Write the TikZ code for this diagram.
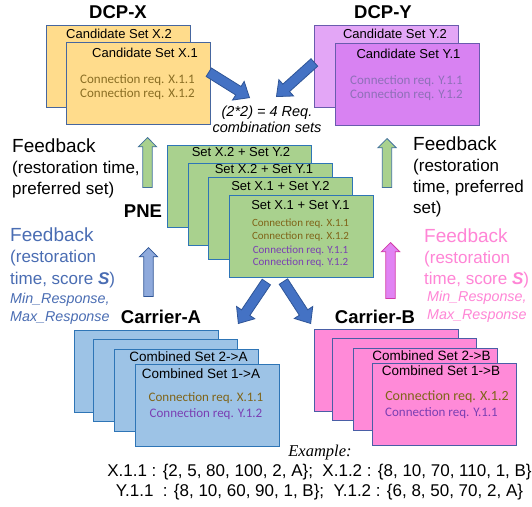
\documentclass[tikz,border=0pt]{standalone}
\usepackage{fontspec}
\setmainfont{Liberation Sans}
\newfontfamily\calibri{Carlito}
\newfontfamily\timesfont{Liberation Serif}
\usetikzlibrary{positioning,shapes.arrows}

\definecolor{candXfill}{HTML}{FFDC8C}
\definecolor{candXline}{HTML}{46669F}
\definecolor{candYback}{HTML}{E3A6F6}
\definecolor{candYfill}{HTML}{D882F2}
\definecolor{candYline}{HTML}{6A5BAE}
\definecolor{pneFill}{HTML}{A9D18E}
\definecolor{pneLine}{HTML}{2E75B6}
\definecolor{carAFill}{HTML}{9DC3E6}
\definecolor{carALine}{HTML}{2E75B6}
\definecolor{carBFill}{HTML}{FF8AD8}
\definecolor{carBLine}{HTML}{4A5EA6}
\definecolor{reqX}{HTML}{7F6418}
\definecolor{reqY}{HTML}{7A3FB3}
\definecolor{reqXsoft}{HTML}{8A6E24}
\definecolor{reqYsoft}{HTML}{8E70B8}
\definecolor{flowFill}{HTML}{4472C4}
\definecolor{flowLine}{HTML}{2F5597}
\definecolor{fbBlue}{HTML}{4A6DB3}
\definecolor{fbBlueFill}{HTML}{8FAADC}
\definecolor{fbPink}{HTML}{FF85D6}
\definecolor{fbPinkFill}{HTML}{E183F3}
\definecolor{fbPinkLine}{HTML}{D23CA8}
\definecolor{fbGreenLine}{HTML}{41719C}

\begin{document}
\begin{tikzpicture}[
    x=1pt, y=-1pt,
    % stacked sheets
    sheet/.style={draw=#1, line width=0.9pt, anchor=north west,
      minimum width=144pt, minimum height=82pt, inner sep=0pt},
    xsheet/.style={sheet=candXline, fill=candXfill},
    ysheetback/.style={sheet=candYline, fill=candYback},
    ysheet/.style={sheet=candYline, fill=candYfill},
    gsheet/.style={sheet=pneLine, fill=pneFill},
    asheet/.style={sheet=carALine, fill=carAFill},
    bsheet/.style={sheet=carBLine, fill=carBFill},
    % texts
    title/.style={anchor=base, inner sep=0pt, font=\bfseries\fontsize{18.5}{22}\selectfont},
    lbl/.style={anchor=base, inner sep=0pt, font=\fontsize{13}{15}\selectfont},
    req/.style={anchor=base, inner sep=0pt, text=#1, font=\calibri\fontsize{13}{15}\selectfont},
    fb/.style={anchor=north west, align=left, inner sep=0pt, font=\fontsize{17}{21}\selectfont},
    fbit/.style={anchor=north west, align=left, inner sep=0pt, font=\itshape\fontsize{14.3}{18}\selectfont},
    % block arrows
    fat/.style 2 args={single arrow, draw=#1, fill=#2, line width=0.8pt,
      inner xsep=0pt, inner ysep=4.3pt, single arrow head extend=4.5pt,
      single arrow head indent=0pt, anchor=tip},
    flow/.style={fat={flowLine}{flowFill}, inner ysep=4.6pt,
      single arrow head extend=6pt, single arrow tip angle=80}
  ]
  \fill[white] (0,0) rectangle (532,506);
  \useasboundingbox (0,0) rectangle (532,506);

  % DCP-X
  \node[title] (dcpx) at (118,18) {DCP-X};
  \node[xsheet] (x2) at (46,25) {};
  \node[xsheet, below right=17pt and 20pt of x2.north west] (x1) {};
  \node[lbl] (x2t) at (119,38) {Candidate Set X.2};
  \node[lbl] (x1t) at (145,57) {Candidate Set X.1};
  \node[req=reqXsoft] (x11) at (137.5,83) {Connection req. X.1.1};
  \node[req=reqXsoft] (x12) at (137.5,97) {Connection req. X.1.2};

  % DCP-Y
  \node[title] (dcpy) at (383,18) {DCP-Y};
  \node[ysheetback] (y2) at (314,25) {};
  \node[ysheet, below right=18pt and 21pt of y2.north west] (y1) {};
  \node[lbl] (y2t) at (395,38) {Candidate Set Y.2};
  \node[lbl] (y1t) at (408.5,58) {Candidate Set Y.1};
  \node[req=reqYsoft] (y11) at (406.5,84) {Connection req. Y.1.1};
  \node[req=reqYsoft] (y12) at (406.5,98) {Connection req. Y.1.2};

  % candidate sets into the PNE
  \node[flow, rotate=-32, minimum height=48pt] (toPneX) at (250,98) {};
  \node[flow, rotate=222, minimum height=51pt] (toPneY) at (276,97) {};
  \node[anchor=north, align=center, inner sep=0pt,
    font=\itshape\fontsize{14.5}{16}\selectfont] (combo) at (267,106)
    {(2*2) = 4 Req.\\combination sets};

  % PNE
  \node[title] (pne) at (143,217) {PNE};
  \node[gsheet] (g1) at (167,145) {};
  \node[gsheet, below right=18pt and 21pt of g1.north west] (g2) {};
  \node[gsheet, below right=14pt and 20pt of g2.north west] (g3) {};
  \node[gsheet, below right=18pt and 21pt of g3.north west] (g4) {};
  \node[lbl] (g1t) at (241,156) {Set X.2 + Set Y.2};
  \node[lbl] (g2t) at (264,173) {Set X.2 + Set Y.1};
  \node[lbl] (g3t) at (280.5,190) {Set X.1 + Set Y.2};
  \node[lbl] (g4t) at (300.5,209) {Set X.1 + Set Y.1};
  \node[req=reqX, font=\calibri\fontsize{11}{13}\selectfont] (g11) at (300.5,226.7) {Connection req. X.1.1};
  \node[req=reqX, font=\calibri\fontsize{11}{13}\selectfont] (g12) at (300.5,239) {Connection req. X.1.2};
  \node[req=reqY, font=\calibri\fontsize{11}{13}\selectfont] (g21) at (300.5,253.3) {Connection req. Y.1.1};
  \node[req=reqY, font=\calibri\fontsize{11}{13}\selectfont] (g22) at (300.5,265.7) {Connection req. Y.1.2};

  % feedback to the DCPs
  \node[fat={fbGreenLine}{pneFill}, rotate=90, minimum height=50pt] (fbXup) at (147.5,137) {};
  \node[fat={fbGreenLine}{pneFill}, rotate=90, minimum height=49pt] (fbYup) at (387,138) {};
  \node[fb] (fbXtxt) at (12,138.4)
    {{\fontsize{19}{21}\selectfont Feedback}\\(restoration time,\\preferred set)};
  \node[fb] (fbYtxt) at (413,137)
    {{\fontsize{19}{21}\selectfont Feedback}\\(restoration\\time, preferred\\set)};

  % feedback from the carriers
  \node[fat={flowLine}{fbBlueFill}, rotate=90, minimum height=49pt] (fbAup) at (148.5,247) {};
  \node[fat={fbPinkLine}{fbPinkFill}, rotate=90, minimum height=56pt] (fbBup) at (390.5,242) {};
  \node[fb, text=fbBlue, font=\fontsize{17}{21.5}\selectfont] (fbAtxt) at (10,227.4)
    {{\fontsize{19}{21.5}\selectfont Feedback}\\(restoration\\time, score \textbf{\textit{S}})};
  \node[fbit, text=fbBlue] (fbAres) at (10,292.8) {Min\_Response,\\Max\_Response};
  \node[fb, text=fbPink, font=\fontsize{17}{21}\selectfont] (fbBtxt) at (424,229)
    {{\fontsize{19}{21}\selectfont Feedback}\\(restoration\\time, score \textbf{\textit{S}})};
  \node[fbit, text=fbPink] (fbBres) at (427,290.8) {Min\_Response,\\Max\_Response};

  % PNE down to the carriers
  \node[flow, rotate=236, minimum height=50pt] (toCarA) at (238,324) {};
  \node[flow, rotate=-57, minimum height=50pt] (toCarB) at (311,324) {};

  % Carrier-A
  \node[title] (cara) at (161,323) {Carrier-A};
  \node[asheet] (a1) at (74,330) {};
  \node[asheet, below right=9pt and 19pt of a1.north west] (a2) {};
  \node[asheet, below right=10pt and 21pt of a2.north west] (a3) {};
  \node[asheet, below right=15pt and 21pt of a3.north west] (a4) {};
  \node[lbl, font=\fontsize{13.5}{15}\selectfont] (a3t) at (188.5,361) {Combined Set 2->A};
  \node[lbl, font=\fontsize{13.5}{15}\selectfont] (a4t) at (201,378.7) {Combined Set 1->A};
  \node[req=reqX] (a11) at (206,401.7) {Connection req. X.1.1};
  \node[req=reqY] (a12) at (206,417.3) {Connection req. Y.1.2};

  % Carrier-B
  \node[title] (carb) at (375,323) {Carrier-B};
  \node[bsheet] (b1) at (314,329) {};
  \node[bsheet, below right=9pt and 18pt of b1.north west] (b2) {};
  \node[bsheet, below right=10pt and 21pt of b2.north west] (b3) {};
  \node[bsheet, below right=15pt and 19pt of b3.north west] (b4) {};
  \node[lbl, font=\fontsize{13.5}{15}\selectfont] (b3t) at (431.5,360) {Combined Set 2->B};
  \node[lbl, font=\fontsize{13.5}{15}\selectfont] (b4t) at (441,375) {Combined Set 1->B};
  \node[req=reqX, font=\calibri\fontsize{14}{16}\selectfont] (b11) at (447,400.7) {Connection req. X.1.2};
  \node[req=reqY] (b12) at (441.5,416.7) {Connection req. Y.1.1};

  % example values
  \node[anchor=base, inner sep=0pt, font=\timesfont\itshape\fontsize{16.5}{18}\selectfont] (ex) at (320,456) {Example:};
  \node[anchor=base, inner sep=0pt, font=\fontsize{17}{20}\selectfont] (exX) at (319.5,476.7)
    {X.1.1 : \{2, 5, 80, 100, 2, A\};\ \ X.1.2 : \{8, 10, 70, 110, 1, B\}};
  \node[anchor=base, inner sep=0pt, font=\fontsize{17}{20}\selectfont] (exY) at (319.5,496)
    {Y.1.1\ \ : \{8, 10, 60, 90, 1, B\};\ \ Y.1.2 : \{6, 8, 50, 70, 2, A\}};
\end{tikzpicture}
\end{document}
